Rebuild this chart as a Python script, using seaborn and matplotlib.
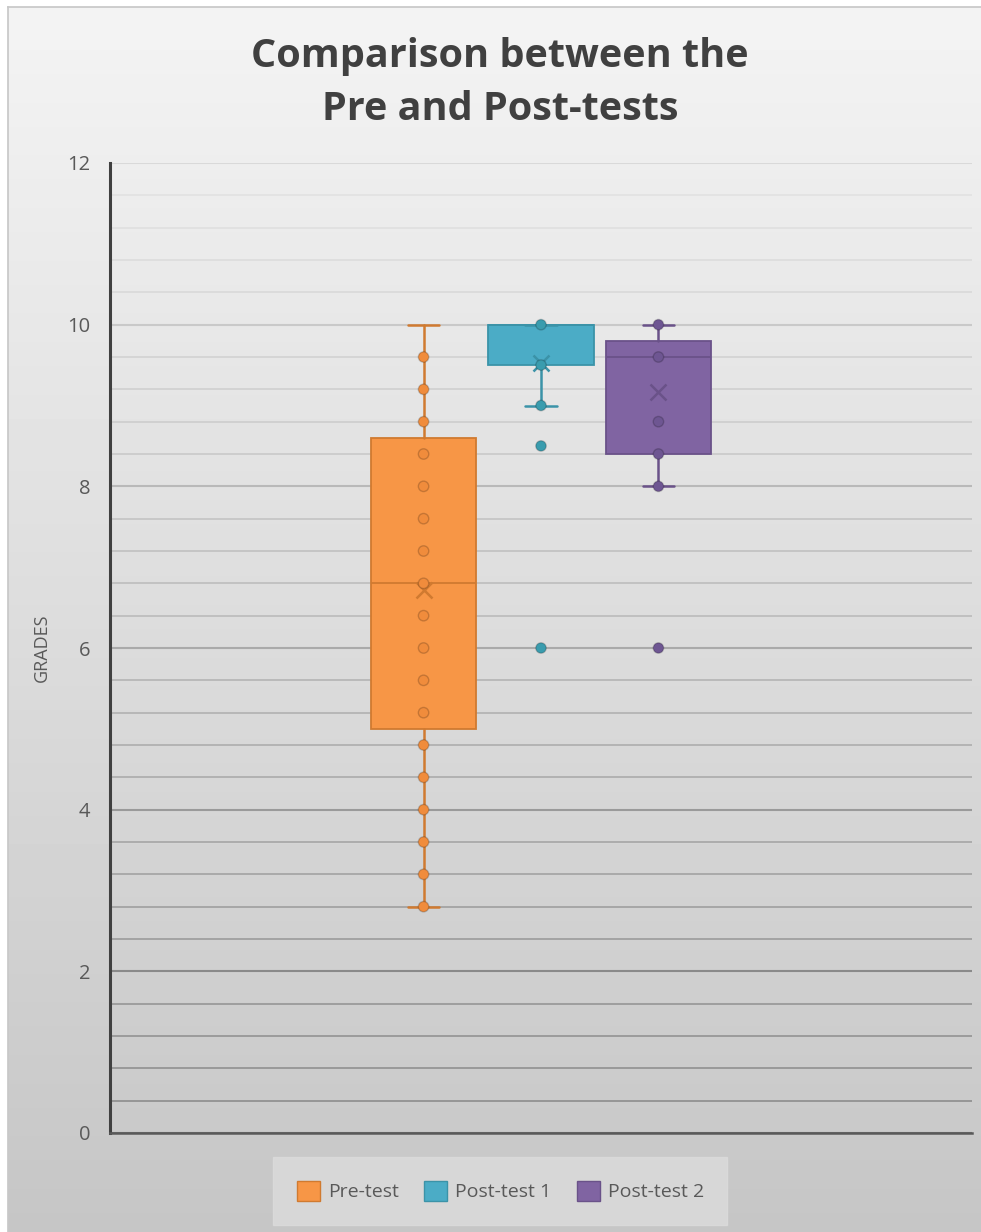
import numpy as np
import pandas as pd
import seaborn as sns
import matplotlib.pyplot as plt
from matplotlib.patches import Patch
from matplotlib.ticker import MultipleLocator


tests = ["Pre-test", "Post-test 1", "Post-test 2"]

# box statistics
q1 = [5.0, 9.5, 8.4]
medians = [6.8, 10.0, 9.6]
q3 = [8.6, 10.0, 9.8]
whisk_lo = [2.8, 9.0, 8.0]
whisk_hi = [10.0, 10.0, 10.0]
means = [6.72, 9.53, 9.17]

# visible points (inner points + outliers)
pre_points = [2.8, 3.2, 3.6, 4.0, 4.4, 4.8, 5.2, 5.6, 6.0, 6.4,
              6.8, 7.2, 7.6, 8.0, 8.4, 8.8, 9.2, 9.6]
post1_points = [10.0, 9.5, 9.0, 8.5, 6.0]
post2_points = [10.0, 9.6, 8.8, 8.4, 8.0, 6.0]

face = ["#f79646", "#4bacc6", "#8064a2"]
edge = ["#d07a30", "#3b93a8", "#6a5289"]
dot_face = ["#f08c3c", "#3a9cae", "#6e5692"]

sns.set_theme(style="white")
plt.rcParams['font.family'] = ['Open Sans', 'DejaVu Sans']

fig = plt.figure(figsize=(9.81, 12.32), dpi=100)
fig.patch.set_facecolor("white")

# gradient card behind the chart
bg = fig.add_axes([8 / 981, 0, 1 - 8 / 981, 1 - 7 / 1232], zorder=-10)
grad = np.linspace(0.955, 0.775, 256).reshape(-1, 1)
bg.imshow(grad, aspect="auto", cmap="gray", vmin=0, vmax=1,
          extent=[0, 1, 0, 1])
bg.set_xticks([])
bg.set_yticks([])
for s in bg.spines.values():
    s.set_visible(False)
bg.spines["left"].set_visible(True)
bg.spines["top"].set_visible(True)
bg.spines["left"].set_color("#c8c8c8")
bg.spines["top"].set_color("#c8c8c8")

ax = fig.add_axes([110 / 981, 99 / 1232, 862 / 981, 970 / 1232])
ax.set_facecolor("none")

df = pd.DataFrame({
    "test": [tests[0]] * len(pre_points) + [tests[1]] * len(post1_points)
            + [tests[2]] * len(post2_points),
    "grade": pre_points + post1_points + post2_points,
})

stats = []
for i, name in enumerate(tests):
    stats.append(dict(label=name, q1=q1[i], med=medians[i], q3=q3[i],
                      whislo=whisk_lo[i], whishi=whisk_hi[i], mean=means[i]))

for i in range(3):
    ax.bxp([stats[i]], positions=[i], widths=0.9, patch_artist=True,
           showmeans=True, showfliers=False,
           boxprops=dict(facecolor=face[i], edgecolor=edge[i], linewidth=1.3),
           medianprops=dict(color=edge[i], linewidth=1.3),
           whiskerprops=dict(color=edge[i], linewidth=1.8),
           capprops=dict(color=edge[i], linewidth=1.8),
           capwidths=0.27,
           meanprops=dict(marker="x", markeredgecolor=edge[i],
                          markersize=11, markeredgewidth=1.8),
           manage_ticks=False, zorder=3)

sns.stripplot(data=df, x="test", y="grade", hue="test", palette=dot_face,
              jitter=False, size=7.5, linewidth=1, edgecolor="#00000030",
              legend=False, ax=ax, zorder=5)

ax.set_xlim(1 - 3.67, 1 + 3.67)
ax.set_ylim(0, 12)
ax.yaxis.set_major_locator(MultipleLocator(2))
ax.yaxis.set_minor_locator(MultipleLocator(0.4))
ax.set_xticks([])
ax.set_xlabel("")
ax.grid(True, axis="y", which="both")
for tick, loc in zip(ax.yaxis.get_minor_ticks(), ax.yaxis.get_minorticklocs()):
    v = 0.56 + 0.34 * loc / 12
    tick.gridline.set_color((v, v, v))
    tick.gridline.set_linewidth(1.3)
for tick, loc in zip(ax.yaxis.get_major_ticks(), ax.yaxis.get_majorticklocs()):
    v = 0.48 + 0.37 * loc / 12
    tick.gridline.set_color((v, v, v))
    tick.gridline.set_linewidth(1.5)
ax.set_axisbelow(True)

ax.tick_params(axis="y", which="both", length=0, pad=14,
               labelsize=14.5, labelcolor="#595959")
for s in ["top", "right"]:
    ax.spines[s].set_visible(False)
ax.spines["left"].set_color("#404040")
ax.spines["left"].set_linewidth(2.2)
ax.spines["bottom"].set_color("#595959")
ax.spines["bottom"].set_linewidth(1.8)

ax.set_ylabel("GRADES", fontsize=13, color="#595959", labelpad=12)

fig.text(0.51, 0.9325, "Comparison between the\nPre and Post-tests",
         ha="center", va="center", fontsize=28.5, fontweight="bold",
         color="#404040", linespacing=1.45)

handles = [Patch(facecolor=face[i], edgecolor=edge[i], label=tests[i])
           for i in range(3)]
leg = fig.legend(handles=handles, loc="center", bbox_to_anchor=(0.51, 0.0333),
                 ncol=3, frameon=True, fancybox=False, fontsize=14,
                 handlelength=1.2, handleheight=1.2, handletextpad=0.4,
                 columnspacing=1.3, borderpad=1.2)
leg.get_frame().set_facecolor("#dcdcdc")
leg.get_frame().set_edgecolor("#dcdcdc")
for t in leg.get_texts():
    t.set_color("#595959")

fig.savefig("out.png", dpi=100)
